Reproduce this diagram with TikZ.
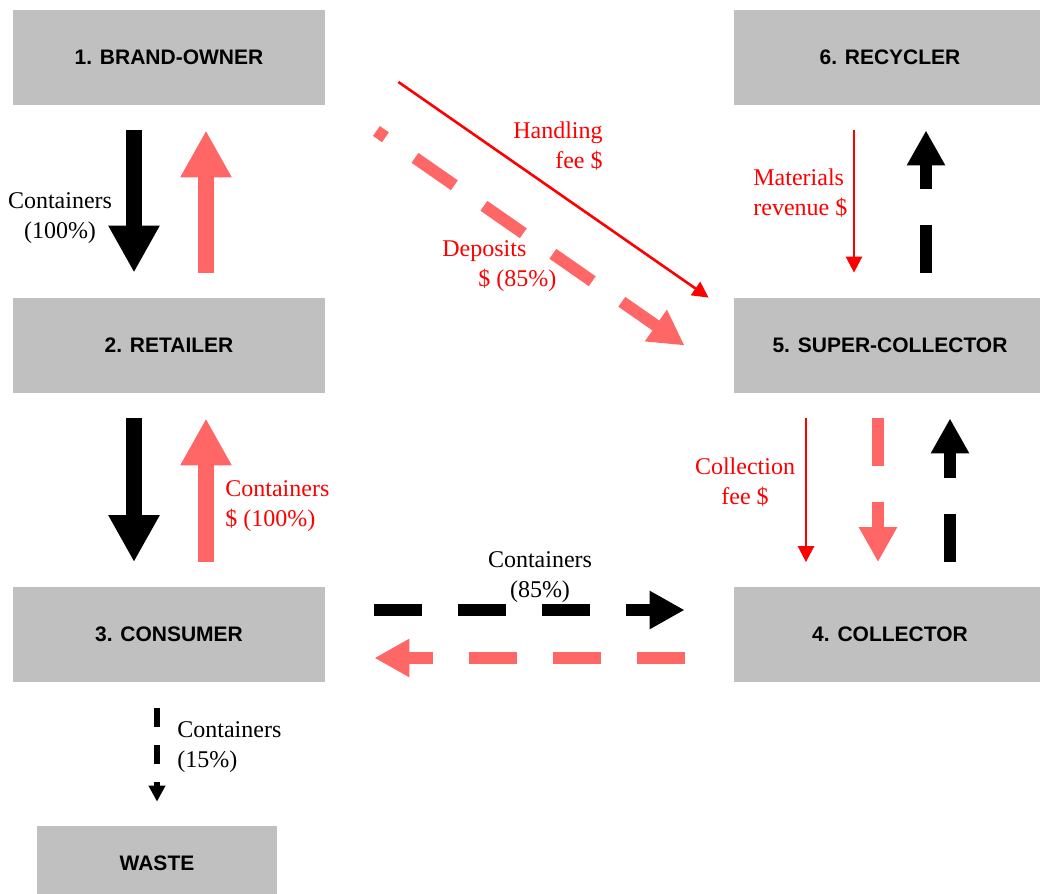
\documentclass[tikz,border=0pt]{standalone}
\usepackage{fontspec}
\setmainfont{Liberation Serif}
\setsansfont{Liberation Sans}
\usetikzlibrary{arrows.meta,calc}
\definecolor{boxgray}{HTML}{C0C0C0}
\definecolor{flowpink}{HTML}{FF6666}

\begin{document}
\begin{tikzpicture}[x=0.5pt, y=-0.5pt,
  actor/.style={fill=boxgray, minimum width=156pt, minimum height=47.5pt, inner sep=0pt,
    font=\sffamily\bfseries\fontsize{10.5}{12}\selectfont},
  lbl/.style={inner sep=0pt, font=\fontsize{12}{15}\selectfont},
  bigflow/.style={line width=8pt, -{Triangle[width=24pt, length=23.5pt]}},
  dashflow/.style={line width=6pt, dash pattern=on 24pt off 18pt, -{Triangle[width=18pt, length=17.5pt]}},
  feeflow/.style={red, line width=1.3pt, -{Triangle[width=8pt, length=8pt]}}]
  \useasboundingbox (0,0) rectangle (1040,894);

  % --- the six actors ---
  \node[actor] (brand) at (169,57.5) {1. BRAND-OWNER};
  \node[actor] (recycler) at (890,57.5) {6. RECYCLER};
  \node[actor] (retailer) at (169,345.5) {2. RETAILER};
  \node[actor] (super) at (890,345.5) {5. SUPER-COLLECTOR};
  \node[actor] (consumer) at (169,634) {3. CONSUMER};
  \node[actor] (collector) at (890,634) {4. COLLECTOR};
  \node[actor, minimum width=120pt, minimum height=37pt] (waste) at (157,863) {WASTE};

  % --- left column: brand-owner, retailer, consumer ---
  \draw[bigflow] ($(brand.south)+(-35,25)$) -- ($(retailer.north)+(-35,-25)$);
  \draw[bigflow, flowpink] ($(retailer.north)+(37,-25)$) -- ($(brand.south)+(37,25)$);
  \node[lbl, align=center] (contall) at (60,218) {Containers\\(100\%)};
  \draw[bigflow] ($(retailer.south)+(-35,25)$) -- ($(consumer.north)+(-35,-24)$);
  \draw[bigflow, flowpink] ($(consumer.north)+(37,-24)$) -- ($(retailer.south)+(37,25)$);
  \node[lbl, red, align=left, anchor=west] (contpay) at (225,506) {Containers\\\$ (100\%)};

  % --- consumer to collector and waste ---
  \draw[dashflow] ($(consumer.east)+(49,-24)$) -- ($(collector.west)+(-49,-24)$);
  \draw[dashflow, flowpink] ($(collector.west)+(-49,24)$) -- ($(consumer.east)+(49,24)$);
  \node[lbl, align=center] (contret) at (540,577) {Containers\\(85\%)};
  \draw[line width=3pt, dash pattern=on 9.5pt off 9pt, -{Triangle[width=8pt, length=8pt]}]
    ($(consumer.south -| waste.north)+(0,26)$) -- ($(waste.north)+(0,-24)$);
  \node[lbl, align=left, anchor=west] (contlost) at (177,747) {Containers\\(15\%)};

  % --- right column: collector, super-collector, recycler ---
  \draw[feeflow] ($(super.south)+(-84,25)$) -- ($(collector.north)+(-84,-24)$);
  \node[lbl, red, align=center] (collfee) at (745,482) {Collection\\fee \$};
  \draw[dashflow, flowpink] ($(super.south)+(-12,25)$) -- ($(collector.north)+(-12,-24)$);
  \draw[dashflow] ($(collector.north)+(60,-24)$) -- ($(super.south)+(60,25)$);
  \draw[feeflow] ($(recycler.south)+(-36,25)$) -- ($(super.north)+(-36,-25)$);
  \node[lbl, red, align=left, anchor=west] (matrev) at (753,193) {Materials\\revenue \$};
  \draw[dashflow] ($(super.north)+(36,-25)$) -- ($(recycler.south)+(36,25)$);

  % --- diagonal: brand-owner to super-collector ---
  \draw[feeflow] ($(brand.east)+(73,24.5)$) -- ($(super.north west)+(-25,0)$);
  \node[lbl, red, align=right, anchor=east] (handfee) at (603,146) {Handling\\fee \$};
  \draw[dashflow, flowpink, dash phase=18.5pt] ($(brand.east)+(51,73.5)$) -- ($(super.west)+(-49,0)$);
  \node[lbl, red, align=left, anchor=west] (deposit) at (442,266) {Deposits\\\hspace*{18pt}\$ (85\%)};
\end{tikzpicture}
\end{document}
